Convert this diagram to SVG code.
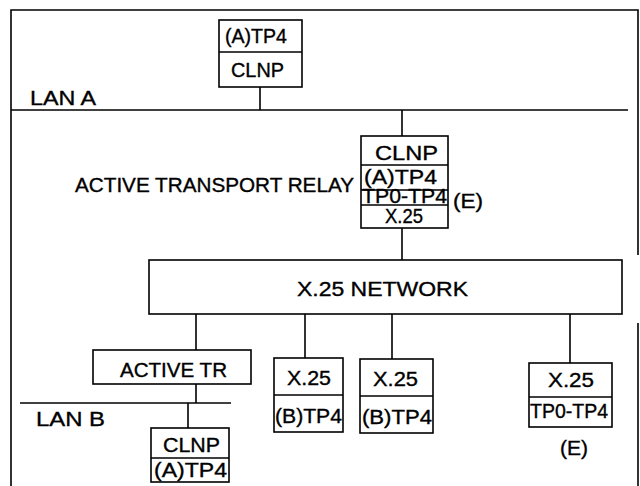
<svg xmlns="http://www.w3.org/2000/svg" width="640" height="486" viewBox="0 0 640 486">
<style>
.b{fill:#fff;stroke:#000;stroke-width:1.6}
.l{stroke:#000;stroke-width:1.6;fill:none}
text{font-family:"Liberation Sans",Arial,sans-serif;fill:#000;font-size:20px;stroke:#000;stroke-width:0.35}
</style>
<rect width="640" height="486" fill="#fff"/>
<g id="frame">
<path class="l" d="M11,486 V10 H638 V255 M638,323 V486"/>
</g>
<g id="lanA">
<path class="l" d="M11,110 H628"/>
<text x="30" y="105" textLength="66" lengthAdjust="spacingAndGlyphs">LAN A</text>
</g>
<g id="lanB">
<path class="l" d="M20,403 H231"/>
<text x="36" y="426" textLength="69" lengthAdjust="spacingAndGlyphs">LAN B</text>
</g>
<g id="connectors">
<path class="l" d="M260,87 V110 M402,110 V136 M402,228 V260 M196,314 V350 M196,384 V403 M188,403 V428 M305,314 V358 M392,314 V359 M570,314 V363"/>
</g>
<g id="hostA">
<rect class="b" x="219" y="20" width="83" height="67"/>
<path class="l" d="M219,52 H302"/>
<text x="225" y="43" textLength="62" lengthAdjust="spacingAndGlyphs">(A)TP4</text>
<text x="231" y="77" textLength="53" lengthAdjust="spacingAndGlyphs">CLNP</text>
</g>
<g id="relay">
<rect class="b" x="361" y="136" width="87" height="92"/>
<path class="l" d="M361,165 H448 M361,190 H448 M361,205 H448"/>
<text x="375" y="160" textLength="63" lengthAdjust="spacingAndGlyphs">CLNP</text>
<text x="364" y="184" font-size="16" textLength="73" lengthAdjust="spacingAndGlyphs">(A)TP4</text>
<text x="362" y="202.5" font-size="11.5" textLength="85" lengthAdjust="spacingAndGlyphs">TP0-TP4</text>
<text x="385" y="223" font-size="17" textLength="38" lengthAdjust="spacingAndGlyphs">X.25</text>
<text x="75" y="192" textLength="279" lengthAdjust="spacingAndGlyphs">ACTIVE TRANSPORT RELAY</text>
<text x="453" y="208" textLength="30" lengthAdjust="spacingAndGlyphs">(E)</text>
</g>
<g id="network">
<rect class="b" x="149" y="260" width="473" height="54"/>
<text x="297" y="296" font-size="21" textLength="171" lengthAdjust="spacingAndGlyphs">X.25 NETWORK</text>
</g>
<g id="activeTR">
<rect class="b" x="93" y="350" width="158" height="34"/>
<text x="120" y="377" font-size="19" textLength="107" lengthAdjust="spacingAndGlyphs">ACTIVE TR</text>
</g>
<g id="hostB">
<rect class="b" x="151" y="428" width="78" height="54"/>
<path class="l" d="M151,458 H229"/>
<text x="163" y="452" textLength="57" lengthAdjust="spacingAndGlyphs">CLNP</text>
<text x="154" y="477" textLength="73" lengthAdjust="spacingAndGlyphs">(A)TP4</text>
</g>
<g id="x25b1">
<rect class="b" x="274" y="358" width="69" height="74"/>
<path class="l" d="M274,395 H343"/>
<text x="287" y="385" textLength="44" lengthAdjust="spacingAndGlyphs">X.25</text>
<text x="275" y="423" textLength="67" lengthAdjust="spacingAndGlyphs">(B)TP4</text>
</g>
<g id="x25b2">
<rect class="b" x="360" y="359" width="73" height="74"/>
<path class="l" d="M360,396 H433"/>
<text x="373" y="386" textLength="45" lengthAdjust="spacingAndGlyphs">X.25</text>
<text x="362" y="424" textLength="70" lengthAdjust="spacingAndGlyphs">(B)TP4</text>
</g>
<g id="x25e">
<rect class="b" x="529" y="363" width="83" height="64"/>
<path class="l" d="M529,397 H612"/>
<text x="548" y="387" textLength="46" lengthAdjust="spacingAndGlyphs">X.25</text>
<text x="530" y="418" font-size="15" textLength="78" lengthAdjust="spacingAndGlyphs">TP0-TP4</text>
<text x="560" y="455" textLength="28" lengthAdjust="spacingAndGlyphs">(E)</text>
</g>
</svg>
